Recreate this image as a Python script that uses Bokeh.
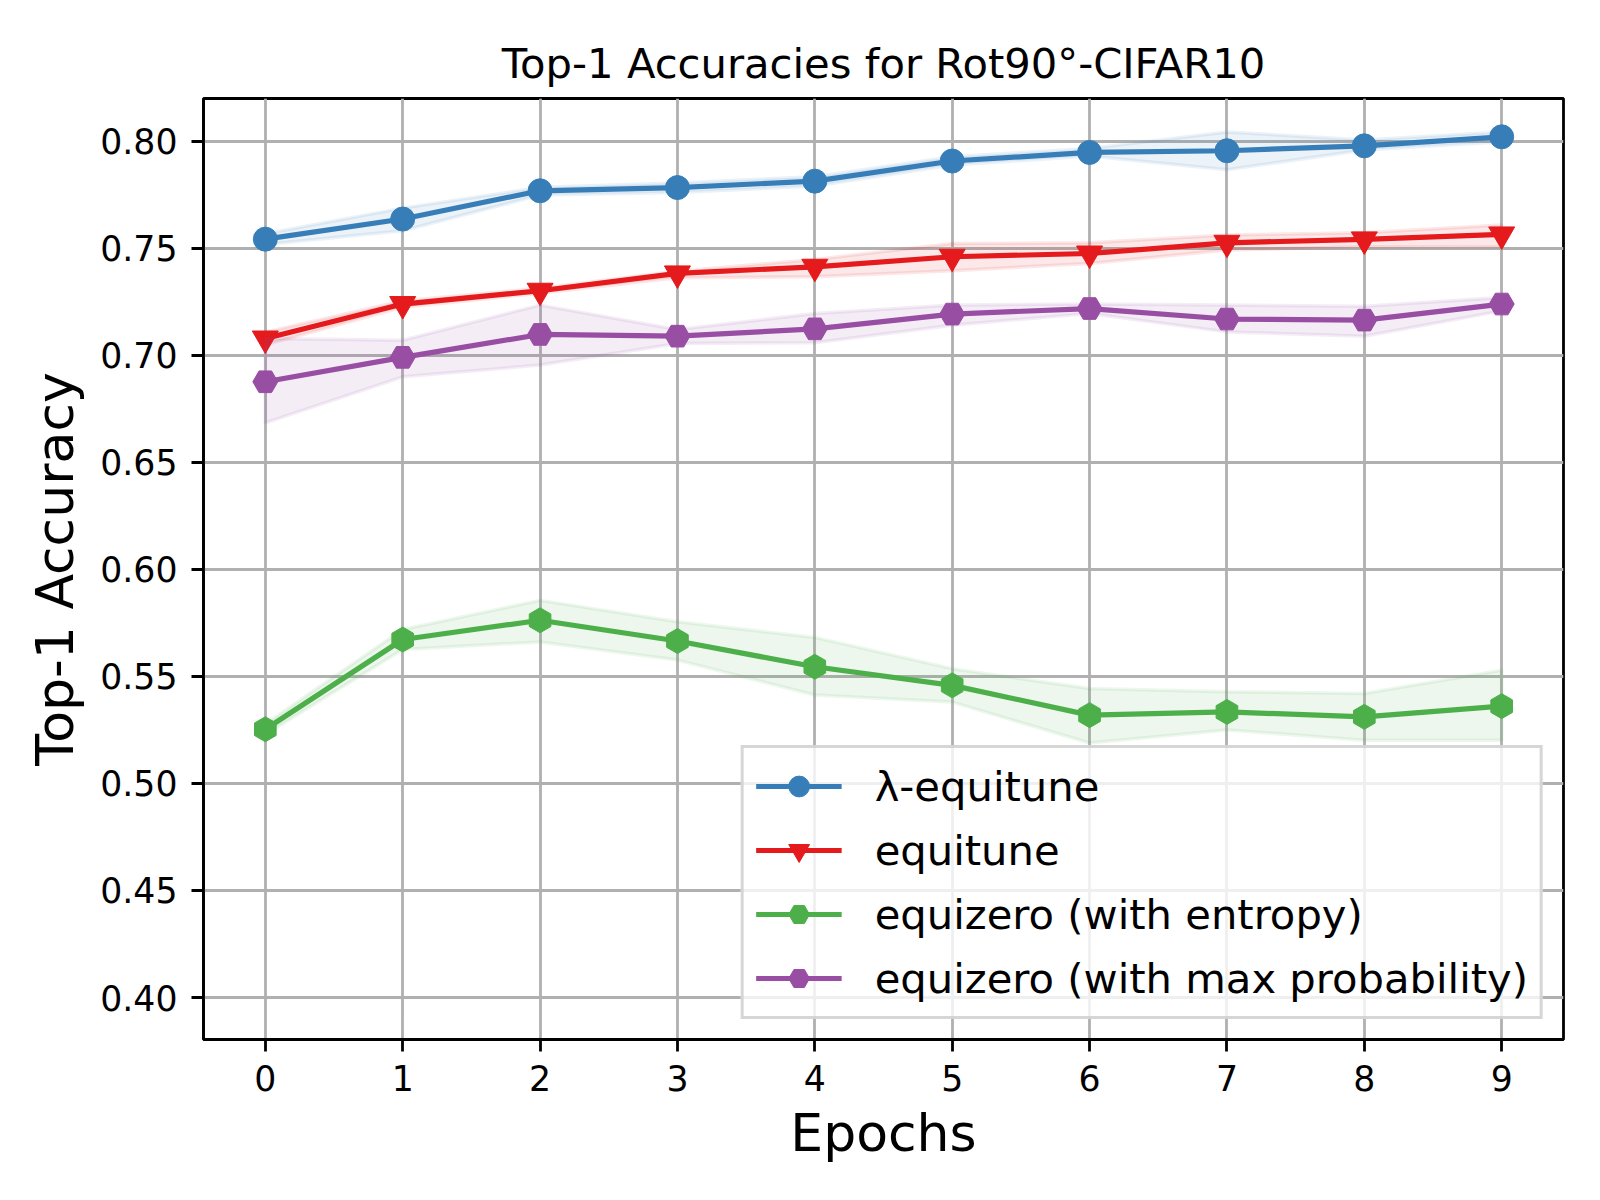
import math
from bokeh.plotting import figure
from bokeh.models import Range1d, FixedTicker
from bokeh.embed import file_html
from bokeh.resources import INLINE

# ---------------- data ----------------
epochs = [0, 1, 2, 3, 4, 5, 6, 7, 8, 9]

lam_mean = [0.7542, 0.7636, 0.7768, 0.7783, 0.7813, 0.7907, 0.7947, 0.7955, 0.7978, 0.8020]
lam_upper = [0.7567, 0.7687, 0.7784, 0.7804, 0.7834, 0.7927, 0.7966, 0.8043, 0.8005, 0.8043]
lam_lower = [0.7517, 0.7581, 0.7748, 0.7760, 0.7790, 0.7888, 0.7930, 0.7866, 0.7958, 0.7997]

eq_mean = [0.7078, 0.7239, 0.7301, 0.7382, 0.7413, 0.7460, 0.7475, 0.7525, 0.7541, 0.7564]
eq_upper = [0.7108, 0.7254, 0.7313, 0.7392, 0.7447, 0.7522, 0.7525, 0.7561, 0.7572, 0.7608]
eq_lower = [0.7048, 0.7224, 0.7289, 0.7362, 0.7366, 0.7395, 0.7428, 0.7491, 0.7507, 0.7506]

ent_mean = [0.5253, 0.5672, 0.5762, 0.5665, 0.5545, 0.5458, 0.5319, 0.5334, 0.5311, 0.5361]
ent_upper = [0.5278, 0.5719, 0.5855, 0.5755, 0.5682, 0.5536, 0.5443, 0.5428, 0.5420, 0.5529]
ent_lower = [0.5228, 0.5626, 0.5661, 0.5576, 0.5413, 0.5380, 0.5189, 0.5250, 0.5202, 0.5202]

mp_mean = [0.6876, 0.6990, 0.7097, 0.7089, 0.7123, 0.7192, 0.7218, 0.7169, 0.7164, 0.7239]
mp_upper = [0.7078, 0.7070, 0.7234, 0.7120, 0.7195, 0.7234, 0.7239, 0.7234, 0.7229, 0.7270]
mp_lower = [0.6684, 0.6899, 0.6954, 0.7055, 0.7058, 0.7140, 0.7195, 0.7109, 0.7089, 0.7207]

labels = ["λ-equitune", "equitune", "equizero (with entropy)", "equizero (with max probability)"]
colors = ["#377eb8", "#e41a1c", "#4daf4a", "#984ea3"]

x_ticks = [0, 1, 2, 3, 4, 5, 6, 7, 8, 9]
y_ticks = [0.40, 0.45, 0.50, 0.55, 0.60, 0.65, 0.70, 0.75, 0.80]
y_tick_labels = ["0.40", "0.45", "0.50", "0.55", "0.60", "0.65", "0.70", "0.75", "0.80"]

FONT = "DejaVu Sans"

p = figure(width=1584, height=1184, output_backend="svg", toolbar_location=None,
           x_range=Range1d(-0.45, 9.45), y_range=Range1d(0.3804, 0.8199),
           min_border_left=203, min_border_right=21, min_border_top=98, min_border_bottom=145)

p.title.text = "Top-1 Accuracies for Rot90°-CIFAR10"
p.title.align = "center"
p.title.text_font = FONT
p.title.text_font_size = "41.7px"
p.title.text_font_style = "normal"
p.title.text_color = "black"
p.title.standoff = 21

p.outline_line_color = "black"
p.outline_line_width = 2.8
p.background_fill_color = "white"
p.border_fill_color = "white"

p.xaxis.ticker = FixedTicker(ticks=x_ticks)
p.yaxis.ticker = FixedTicker(ticks=y_ticks)
p.yaxis.major_label_overrides = {t: l for t, l in zip(y_ticks, y_tick_labels)}
p.xaxis.axis_label = "Epochs"
p.yaxis.axis_label = "Top-1 Accuracy"
for ax in (p.xaxis, p.yaxis):
    ax.axis_label_text_font = FONT
    ax.axis_label_text_font_size = "52px"
    ax.axis_label_text_font_style = "normal"
    ax.axis_label_text_color = "black"
    ax.major_label_text_font = FONT
    ax.major_label_text_font_size = "34.7px"
    ax.major_label_text_color = "black"
    ax.major_tick_out = 12
    ax.major_tick_in = 0
    ax.major_tick_line_width = 2.8
    ax.major_tick_line_color = "black"
    ax.minor_tick_line_color = None
    ax.axis_line_color = "black"
    ax.axis_line_width = 2.8
p.xaxis.major_label_standoff = 13
p.yaxis.major_label_standoff = 14
p.xaxis.axis_label_standoff = 9
p.yaxis.axis_label_standoff = 12

p.grid.grid_line_color = "#b0b0b0"
p.grid.grid_line_width = 2.8

series = [
    (lam_mean, lam_upper, lam_lower, "circle", 24, 0.0),
    (eq_mean, eq_upper, eq_lower, "inverted_triangle", 26, 0.0),
    (ent_mean, ent_upper, ent_lower, "hex", 25, math.pi / 6),
    (mp_mean, mp_upper, mp_lower, "hex", 25, 0.0),
]

for (m, up, lo, mk, sz, ang), lab, col in zip(series, labels, colors):
    xs = list(epochs) + list(reversed(epochs))
    ys = list(up) + list(reversed(lo))
    p.patch(xs, ys, fill_color=col, fill_alpha=0.1, line_color=col, line_alpha=0.1, line_width=3.5)
    p.line(epochs, m, line_color=col, line_width=5.2, line_join="round", legend_label=lab)
    p.scatter(epochs, m, marker=mk, size=sz, angle=ang, fill_color=col, line_color=col,
              line_width=1, legend_label=lab)

lg = p.legend[0]
lg.location = "bottom_right"
lg.margin = 20
lg.padding = 12
lg.spacing = 12
lg.glyph_width = 86
lg.glyph_height = 52
lg.label_height = 52
lg.label_standoff = 33
lg.label_text_font = FONT
lg.label_text_font_size = "41.7px"
lg.label_text_color = "black"
lg.border_line_color = "#cccccc"
lg.border_line_width = 3.5
lg.border_line_alpha = 0.8
lg.background_fill_color = "white"
lg.background_fill_alpha = 0.8

open("out.html", "w").write(file_html(p, INLINE))
